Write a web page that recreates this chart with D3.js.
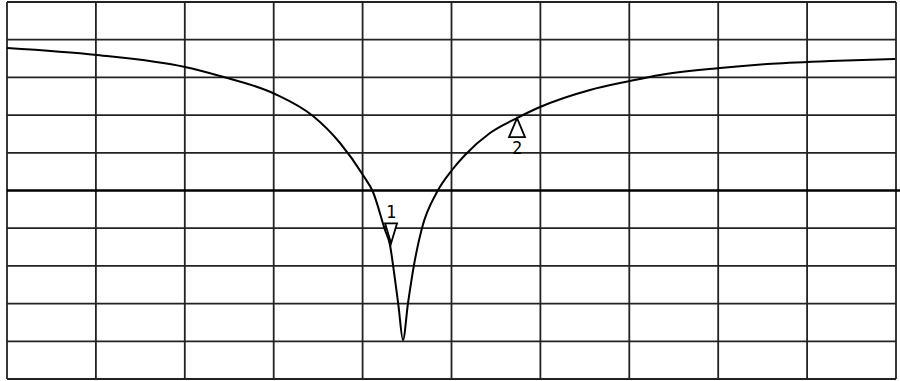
<!DOCTYPE html>
<meta charset="utf-8">
<head>
<style>
  body { margin: 0; background: #fff; }
  .grid line { stroke: #222; stroke-width: 1.8; }
  .trace { fill: none; stroke: #000; stroke-width: 2; }
  .marker path { fill: #fff; stroke: #000; stroke-width: 1.8; }
  .marker text { font-family: "DejaVu Sans Mono", monospace; font-size: 17px; }
</style>
</head>
<body>
<div class="chart"></div>
<script src="https://d3js.org/d3.v7.min.js" charset="utf-8"></script>
<script>
// frequency in divisions (0..10), level in dB (ref 0 dB at top, 5 dB/div)
const freqs = [0, 1.012, 2.002, 2.396, 3.015, 3.442, 3.746, 4.004, 4.117, 4.252, 4.308, 4.353, 4.404, 4.454,
  4.511, 4.578, 4.668, 4.837, 5.006, 5.152, 5.433, 5.737, 5.996, 6.558, 7.008, 7.345, 8.02, 8.549, 9.258, 9.989];
const levels = [-6.1, -7.03, -8.62, -9.81, -12.2, -15.12, -18.7, -22.95, -25.2, -30.24, -32.23, -35.81, -40.32, -44.83,
  -39.92, -34.88, -29.97, -25.2, -22.28, -20.29, -17.37, -15.39, -13.93, -11.67, -10.48, -9.68, -8.75, -8.22, -7.83, -7.56];
const markers = [
  { id: '1', freq: 4.32, level: -32.0, dir: 'down' },
  { id: '2', freq: 5.737, level: -15.39, dir: 'up' }
];
const xTicks = d3.range(0, 11);
const yTicks = d3.range(0, -55, -5);

const margin = { top: 2, right: 4, bottom: 2, left: 7 };
const width = 900 - margin.left - margin.right;
const height = 381 - margin.top - margin.bottom;

const xScale = d3.scaleLinear().domain([0, 10]).range([0, width]);
const yScale = d3.scaleLinear().domain([0, -50]).range([0, height]);

const svg = d3.select('.chart')
  .append('svg')
  .attr('width', 900)
  .attr('height', 381)
  .append('g')
  .attr('transform', `translate(${margin.left}, ${margin.top})`);

const grid = svg.append('g').attr('class', 'grid');

grid.selectAll('.v').data(xTicks)
  .enter()
  .append('line')
  .attr('x1', d => xScale(d))
  .attr('x2', d => xScale(d))
  .attr('y1', 0)
  .attr('y2', height);

// centre line is drawn heavier and runs to the right edge
grid.selectAll('.h').data(yTicks)
  .enter()
  .append('line')
  .attr('x1', 0)
  .attr('x2', d => d === -25 ? width + margin.right : width)
  .attr('y1', d => yScale(d))
  .attr('y2', d => yScale(d))
  .style('stroke', d => d === -25 ? '#000' : null)
  .style('stroke-width', d => d === -25 ? 2.4 : null);

const points = freqs.map((f, i) => [f, levels[i]]);

const line = d3.line()
  .x(d => xScale(d[0]))
  .y(d => yScale(d[1]))
  .curve(d3.curveMonotoneX);

svg.append('path')
  .datum(points)
  .attr('class', 'trace')
  .attr('d', line);

const mk = svg.selectAll('.marker').data(markers)
  .enter()
  .append('g')
  .attr('class', 'marker')
  .attr('transform', d => `translate(${xScale(d.freq)}, ${yScale(d.level)})`);

mk.append('path')
  .attr('d', d => d.dir === 'down' ? 'M0,0 L-6,-20 L6,-20 Z' : 'M0,0 L-8,19 L8,19 Z');

mk.append('text')
  .attr('text-anchor', 'middle')
  .attr('x', 0)
  .attr('y', d => d.dir === 'down' ? -25 : 36)
  .text(d => d.id);
</script>
</body>
